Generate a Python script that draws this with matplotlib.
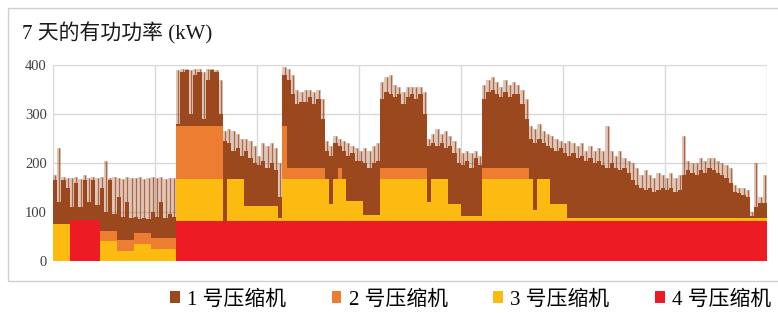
import numpy as np
import matplotlib
matplotlib.use("Agg")
import matplotlib.pyplot as plt
from matplotlib.patches import Patch, Rectangle

plt.rcParams['font.family'] = ['Liberation Serif', 'Noto Sans CJK SC', 'DejaVu Sans']

# ---------- data (hourly, 7 days) ----------
hours = np.arange(169)

# step layers: start hour of each segment and its power (kW)
red_start = [0, 4, 11, 29]
red_kw = [0, 84, 0, 82]

yellow_start = [0, 4, 11, 15, 19, 23, 29, 40, 41, 45, 53, 54, 65, 66, 69, 73,
                77, 88, 89, 93, 96, 101, 113, 114, 117, 121]
yellow_kw = [75, 0, 40, 20, 35, 25, 85, 0, 85, 30, 5, 85, 35, 85, 40, 12,
             85, 38, 85, 35, 10, 85, 22, 85, 35, 6]

orange_start = [0, 11, 29, 40, 54, 55, 64, 67, 68, 77, 88, 101, 112]
orange_kw = [0, 22, 108, 0, 108, 23, 0, 23, 0, 23, 0, 23, 0]

# total active power: dense level and spike peaks
total_kw = [
    165, 120, 165, 150, 110, 160, 110, 165, 120, 165, 115, 150, 100, 165, 95, 130, 90, 120, 88, 90, 85, 88, 85, 100,
    90, 120, 88, 95, 90, 280, 385, 390, 300, 380, 385, 290, 370, 390, 385, 300, 245, 240, 225, 230, 215, 225, 210, 200,
    195, 205, 190, 200, 185, 130, 380, 370, 340, 320, 325, 325, 335, 320, 330, 290, 225, 215, 240, 235, 225, 215, 220, 205,
    205, 200, 190, 200, 205, 330, 345, 340, 335, 340, 320, 335, 340, 330, 340, 300, 235, 240, 235, 240, 230, 235, 220, 200,
    195, 205, 190, 210, 195, 330, 345, 350, 340, 335, 345, 335, 340, 340, 320, 290, 250, 240, 250, 240, 235, 230, 225, 230,
    220, 215, 220, 210, 215, 205, 210, 200, 205, 195, 190, 200, 190, 185, 190, 180, 165, 155, 150, 145, 148, 140, 145, 150,
    145, 150, 140, 145, 175, 185, 180, 175, 185, 180, 190, 185, 180, 175, 170, 160, 140, 138, 135, 130, 92, 110, 118, 118,
]
total_peak_kw = [
    175, 230, 172, 170, 170, 172, 168, 175, 170, 172, 170, 172, 205, 170, 172, 170, 168, 172, 170, 170, 172, 168, 170, 172,
    170, 172, 168, 170, 170, 390, 392, 392, 390, 392, 392, 385, 392, 392, 390, 370, 265, 270, 265, 260, 250, 250, 245, 235,
    215, 240, 235, 240, 230, 200, 395, 392, 380, 350, 345, 350, 350, 345, 348, 330, 245, 235, 255, 250, 245, 240, 235, 230,
    225, 230, 225, 235, 240, 365, 375, 380, 360, 355, 345, 355, 355, 355, 355, 345, 250, 260, 270, 260, 265, 255, 245, 230,
    220, 225, 220, 225, 215, 360, 370, 375, 365, 355, 370, 360, 365, 360, 350, 330, 275, 270, 280, 265, 260, 255, 250, 245,
    240, 245, 240, 235, 240, 225, 235, 225, 230, 225, 275, 225, 215, 225, 210, 205, 200, 190, 175, 185, 175, 170, 180, 175,
    170, 180, 170, 175, 255, 205, 200, 200, 210, 205, 210, 210, 205, 200, 195, 190, 155, 150, 150, 145, 100, 200, 130, 175,
]

labels = ["1 号压缩机", "2 号压缩机", "3 号压缩机", "4 号压缩机"]
colors = ["#9B481E", "#ED7D31", "#FDBB12", "#ED1C24"]


def to_hourly(starts, values):
    lengths = np.diff(list(starts) + [168])
    return np.repeat(values, lengths).astype(float)


red = to_hourly(red_start, red_kw)
yellow = to_hourly(yellow_start, yellow_kw)
orange = to_hourly(orange_start, orange_kw)
total = np.array(total_kw, dtype=float)
peak = np.array(total_peak_kw, dtype=float)

s4 = red
s3 = s4 + yellow
s2 = s3 + orange
s1 = np.maximum(total, s2)
peak = np.maximum(peak, s1)

# ---------- figure ----------
fig = plt.figure(figsize=(7.78, 3.13), dpi=100)
ax = fig.add_axes([53 / 778, 1 - 261 / 313, (767 - 53) / 778, (261 - 65) / 313])

# light fringe of short spikes above the dense level
ax.stairs(peak, hours, baseline=s1, fill=True, color=colors[0], alpha=0.3, lw=0)
ax.vlines(hours[:-1] + 0.5, s1, peak, color=colors[0], alpha=0.75, lw=0.9)
ax.stairs(s1, hours, baseline=s2, fill=True, color=colors[0], lw=0)
ax.stairs(s2, hours, baseline=s3, fill=True, color=colors[1], lw=0)
ax.stairs(s3, hours, baseline=s4, fill=True, color=colors[2], lw=0)
ax.stairs(s4, hours, baseline=0, fill=True, color=colors[3], lw=0)

ax.set_xlim(0, 168)
ax.set_ylim(0, 400)
ax.set_xticks(np.arange(0, 169, 24))
ax.set_yticks([0, 100, 200, 300, 400])
ax.set_xticklabels([])
ax.tick_params(length=0, labelsize=10.5, labelcolor="#404040", pad=4.5)
ax.grid(True, color="#d9d9d9", lw=1)
ax.set_axisbelow(True)
for sp in ax.spines.values():
    sp.set_visible(False)

fig.text(22 / 778, 1 - 33 / 313, "7 天的有功功率 (kW)", fontsize=15,
         va="center", ha="left", color="#1a1a1a")

fig.add_artist(Rectangle((8 / 778, 1 - 281 / 313), 1.0, (281 - 8) / 313,
                         transform=fig.transFigure, fill=False,
                         edgecolor="#d0d0d0", lw=1))

handles = [Patch(facecolor=c, edgecolor="none") for c in colors]
fig.legend(handles, labels, loc="center", bbox_to_anchor=(0.605, 0.042),
           ncol=4, frameon=False, fontsize=15, handlelength=0.45,
           handleheight=0.45, handletextpad=0.35, columnspacing=2.2,
           borderpad=0, borderaxespad=0)

fig.savefig("out.png", dpi=100)
